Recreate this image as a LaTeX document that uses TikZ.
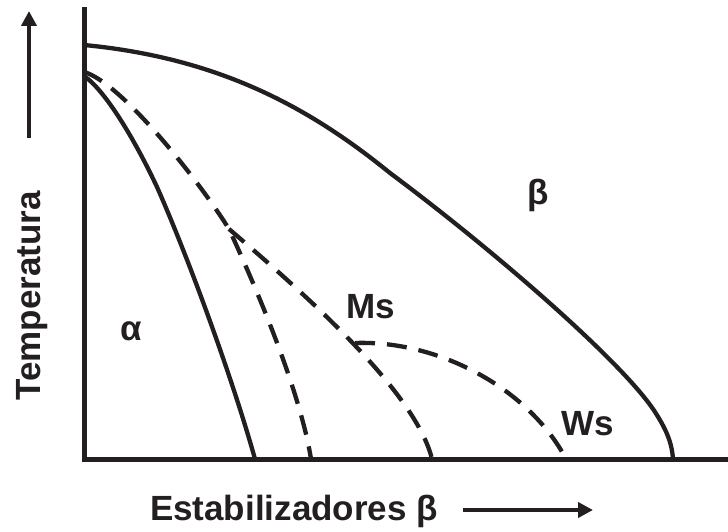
\documentclass[tikz,border=0pt]{standalone}
\usepackage{fontspec}
\setmainfont{Liberation Sans}
\usetikzlibrary{arrows.meta}
\definecolor{ink}{HTML}{231F20}
\tikzset{
  axisline/.style={line width=5pt, draw=ink},
  solidcurve/.style={line width=4.3pt, line join=round, draw=ink},
  dashcurve/.style={line width=4.3pt, draw=ink, dash pattern=on 20pt off 12pt},
  lbl/.style={font=\fontsize{35}{40}\selectfont\bfseries, text=ink, inner sep=0pt, anchor=base},
  bigarrow/.style={line width=4.5pt, draw=ink, fill=ink, -{Triangle[length=15pt,width=15pt]}}
}
\begin{document}
\begin{tikzpicture}[x=1pt,y=-1pt]
\useasboundingbox (0,0) rectangle (728,532);
% axes
\coordinate (top) at (84,7);
\coordinate (O) at (84,459);
\coordinate (right) at (728,459);
\draw[axisline] (top) -- (O) -- (right);
% beta transus
\draw[solidcurve] (84,45) .. controls (220,58) and (310,108) .. (390,173)
  .. controls (500,255) and (625,365) .. (655,412)
  .. controls (668,432) and (672,445) .. (673,459);
% alpha boundary
\draw[solidcurve] (84,76) .. controls (105,90) and (135,140) .. (157,187)
  .. controls (185,250) and (230,370) .. (255,459);
% dashed: top to apex and steep branch
\coordinate (apex) at (229,229);
\draw[dashcurve] (84,72) .. controls (120,82) and (195,175) .. (apex)
  .. controls (255,285) and (300,390) .. (311,459);
% Ms branch
\draw[dashcurve] (apex) .. controls (300,290) and (415,390) .. (432,459);
% Ws branch
\draw[dashcurve] (355,343) .. controls (440,340) and (530,390) .. (566,459);
% labels
\node[lbl] (alpha) at (131,340) {α};
\node[lbl] (beta) at (538,204) {β};
\node[lbl] (ms) at (371,318) {Ms};
\node[lbl] (ws) at (588,435) {Ws};
\node[lbl] (xlab) at (294,520) {Estabilizadores β};
\node[lbl, rotate=90] (ylab) at (40,296) {Temperatura};
% arrows
\coordinate (ta) at (29,138);
\coordinate (tb) at (29,11);
\draw[bigarrow] (ta) -- (tb);
\coordinate (xa) at (463,510);
\coordinate (xb) at (593,510);
\draw[bigarrow] (xa) -- (xb);
\end{tikzpicture}
\end{document}
